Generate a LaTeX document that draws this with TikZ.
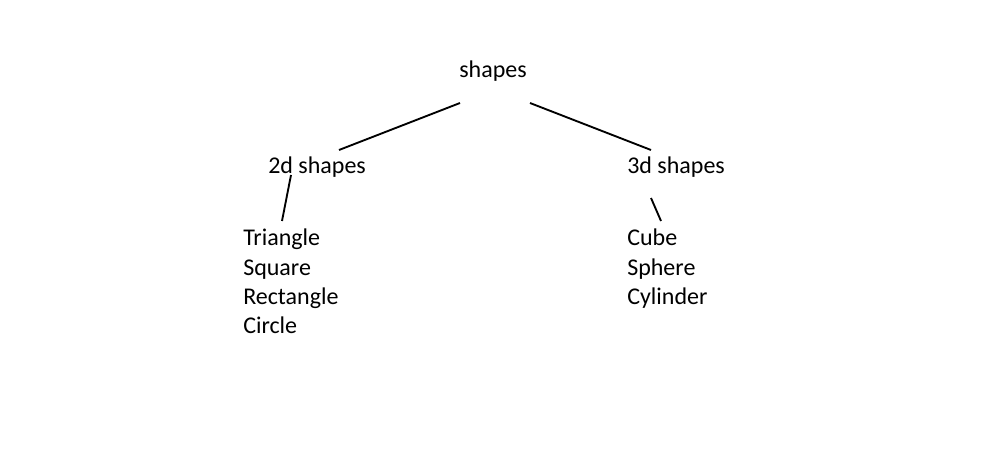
\documentclass[tikz,border=0pt]{standalone}
\usepackage{fontspec}
\setmainfont{Carlito}
\usepackage{tikz}

\begin{document}
\begin{tikzpicture}[x=0.75pt, y=-0.75pt,
    label/.style={inner sep=0pt, anchor=base west, font=\fontsize{18}{21.5}\selectfont},
    branch/.style={line width=1.4pt}]
    \useasboundingbox (0,0) rectangle (1007,474);

    \node[label] (root) at (459,78) {shapes};
    \node[label] (twod) at (268,174) {2d shapes};
    \node[label] (threed) at (627,174) {3d shapes};

    \foreach \name [count=\i] in {Triangle,Square,Rectangle,Circle}
        \node[label] (tw\i) at (243,246+29*\i-29) {\name};
    \foreach \name [count=\i] in {Cube,Sphere,Cylinder}
        \node[label] (th\i) at (627,246+29*\i-29) {\name};

    \draw[branch] ([shift={(1,25)}]root.base west) -- ([shift={(71,-24)}]twod.base west);
    \draw[branch] ([shift={(71,25)}]root.base west) -- ([shift={(24,-24)}]threed.base west);
    \draw[branch] ([shift={(23,1)}]twod.base west) -- ([shift={(39,-25)}]tw1.base west);
    \draw[branch] ([shift={(24,24)}]threed.base west) -- ([shift={(34,-25)}]th1.base west);
\end{tikzpicture}
\end{document}
